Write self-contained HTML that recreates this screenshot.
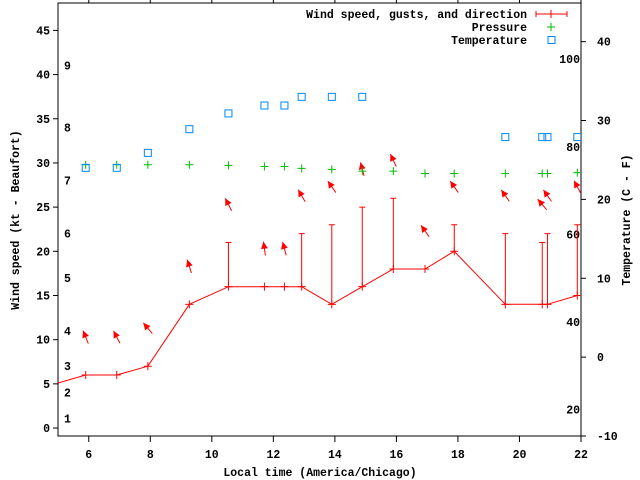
<!DOCTYPE html>
<html><head><meta charset="utf-8"><style>
html,body{margin:0;padding:0;background:#fff;}
svg{display:block;}
text{font-family:"Liberation Mono","DejaVu Sans Mono",monospace;font-weight:bold;font-size:11.5px;fill:#000;}
</style></head><body>
<svg id="chart" width="640" height="480" viewBox="0 0 640 480"></svg>
<script>
const times = [4.9, 5.9, 6.91, 7.92, 9.27, 10.54, 11.71, 12.36, 12.92, 13.9, 14.89, 15.9, 16.93, 17.88, 19.54, 20.74, 20.91, 21.88];
const speeds = [5, 6, 6, 7, 14, 16, 16, 16, 16, 14, 16, 18, 18, 20, 14, 14, 14, 15];
const gusts = [null, null, null, null, null, 21, null, null, 22, 23, 25, 26, null, 23, 22, 21, 22, 23];
const directions = [null, -22, -28, -40, -17, -27, -8, -15, -30, -35, -15, -25, -35, -35, -35, -40, -35, -28];
const pressure = [null, 29.8, 29.8, 29.8, 29.8, 29.72, 29.6, 29.6, 29.38, 29.27, 29.07, 29.07, 28.8, 28.8, 28.8, 28.8, 28.8, 28.9];
const temperature = [null, 24, 24, 25.9, 28.9, 30.9, 31.9, 31.9, 33, 33, 33, null, null, null, 27.9, 27.9, 27.9, 27.9];
const xTicks = [6, 8, 10, 12, 14, 16, 18, 20, 22];
const yTicks = [0, 5, 10, 15, 20, 25, 30, 35, 40, 45];
const cTicks = [-10, 0, 10, 20, 30, 40];
const fTicks = [20, 40, 60, 80, 100];
const beaufortLabels = ['1','2','3','4','5','6','7','8','9'];
const beaufortKt = [1.1, 4.0, 7.0, 11.0, 17.0, 22.0, 28.0, 34.0, 41.0];

const L=58, R=581, T=3, B=436;
const xMin=5, xMax=22, yMin=-0.9, yMax=48.1, cMin=-10, cMax=44.9;
const X = t => L + (t - xMin) / (xMax - xMin) * (R - L);
const Y = v => B - (v - yMin) / (yMax - yMin) * (B - T);
const YC = c => B - (c - cMin) / (cMax - cMin) * (B - T);
const F2C = f => (f - 32) * 5 / 9;

const NS='http://www.w3.org/2000/svg';
const svg=document.getElementById('chart');
function mk(tag, attrs, parent){const e=document.createElementNS(NS,tag);for(const k in attrs)e.setAttribute(k,attrs[k]);(parent||svg).appendChild(e);return e;}

const defs=mk('defs',{});
const cp=mk('clipPath',{id:'plotclip'},defs);
mk('rect',{x:L,y:T,width:R-L,height:B-T},cp);

const frame=mk('rect',{x:L,y:T,width:R-L,height:B-T,fill:'none',stroke:'#000','stroke-width':1});



xTicks.forEach(v=>{
  const x=X(v);
  mk('line',{x1:x,y1:B,x2:x,y2:B+6,stroke:'#000'});
  mk('line',{x1:x,y1:T,x2:x,y2:T-6,stroke:'#000'});
  const t=mk('text',{x:x,y:B+22,'text-anchor':'middle'});t.textContent=v;
  
  
});
yTicks.forEach(v=>{
  const y=Y(v);
  mk('line',{x1:L-5,y1:y,x2:L,y2:y,stroke:'#000'});
  const t=mk('text',{x:L-8,y:y+4,'text-anchor':'end'});t.textContent=v;
  
  
});
cTicks.forEach(v=>{
  const y=YC(v);
  mk('line',{x1:R,y1:y,x2:R+5,y2:y,stroke:'#000'});
  const t=mk('text',{x:R+16,y:y+4,'text-anchor':'start'});t.textContent=v;
  
  
});
fTicks.forEach(v=>{
  const y=YC(F2C(v));
  const t=mk('text',{x:R-1,y:y+4,'text-anchor':'end'});t.textContent=v;
  
  
});
beaufortLabels.forEach((s,i)=>{
  const t=mk('text',{x:64,y:Y(beaufortKt[i])+4});t.textContent=s;
  
  
});

const g=mk('g',{'clip-path':'url(#plotclip)'});
let d='';
times.forEach((t,i)=>{d+=(i?'L':'M')+X(t).toFixed(1)+','+Y(speeds[i]).toFixed(1);});
const wl=mk('path',{d:d,fill:'none',stroke:'#f00','stroke-width':1},g);


times.forEach((t,i)=>{
  const x=X(t),y=Y(speeds[i]);
  const p=mk('path',{d:`M${x-4},${y}h8M${x},${y-4}v8`,stroke:'#f00'},g);
  
  
  if(gusts[i]!=null){
    const gy=Y(gusts[i]);
    const gl=mk('path',{d:`M${x},${y}V${gy}M${x-3},${gy}h6`,stroke:'#f00',fill:'none'},g);
    
    
  }
  if(directions[i]!=null){
    const top=(gusts[i]!=null?gusts[i]:speeds[i])+4.3;
    const cy=Y(top), a=directions[i]*Math.PI/180;
    const ux=Math.sin(a), uy=-Math.cos(a);
    const tx=x+ux*7, ty=cy+uy*7, bx=x-ux*7, by=cy-uy*7;
    const ag=mk('g',{},g);
    
    
    mk('line',{x1:bx,y1:by,x2:tx,y2:ty,stroke:'#f00'},ag);
    const px=-uy, py=ux;
    mk('polygon',{points:`${tx},${ty} ${tx-ux*7+px*3.5},${ty-uy*7+py*3.5} ${tx-ux*7-px*3.5},${ty-uy*7-py*3.5}`,fill:'#f00'},ag);
  }
  if(pressure[i]!=null){
    const py=Y(pressure[i]);
    const pp=mk('path',{d:`M${x-4},${py}h8M${x},${py-4}v8`,stroke:'#0b0'},g);
    
    
  }
  if(temperature[i]!=null){
    const ty2=YC(temperature[i]);
    const sq=mk('rect',{x:x-3.5,y:ty2-3.5,width:7,height:7,fill:'none',stroke:'#08f'},g);
    
    
  }
});

const leg=mk('g',{});


[['Wind speed, gusts, and direction',18],['Pressure',31],['Temperature',44]].forEach(([s,y])=>{
  const t=mk('text',{x:527,y:y,'text-anchor':'end'},leg);t.textContent=s;
  
  
});
mk('path',{d:'M536,14H567M536,11v6M567,11v6M551,10v8',stroke:'#f00',fill:'none'},leg);
mk('path',{d:'M547,27h8M551,23v8',stroke:'#0b0'},leg);
mk('rect',{x:548,y:36.5,width:7,height:7,fill:'none',stroke:'#08f'},leg);

const xl=mk('text',{x:320,y:476,'text-anchor':'middle'});xl.textContent='Local time (America/Chicago)';


const yl=mk('text',{x:0,y:0,'text-anchor':'middle',transform:'translate(19,220) rotate(-90)'});yl.textContent='Wind speed (kt - Beaufort)';


const rl=mk('text',{x:0,y:0,'text-anchor':'middle',transform:'translate(630,220) rotate(-90)'});rl.textContent='Temperature (C - F)';


</script>
</body></html>
